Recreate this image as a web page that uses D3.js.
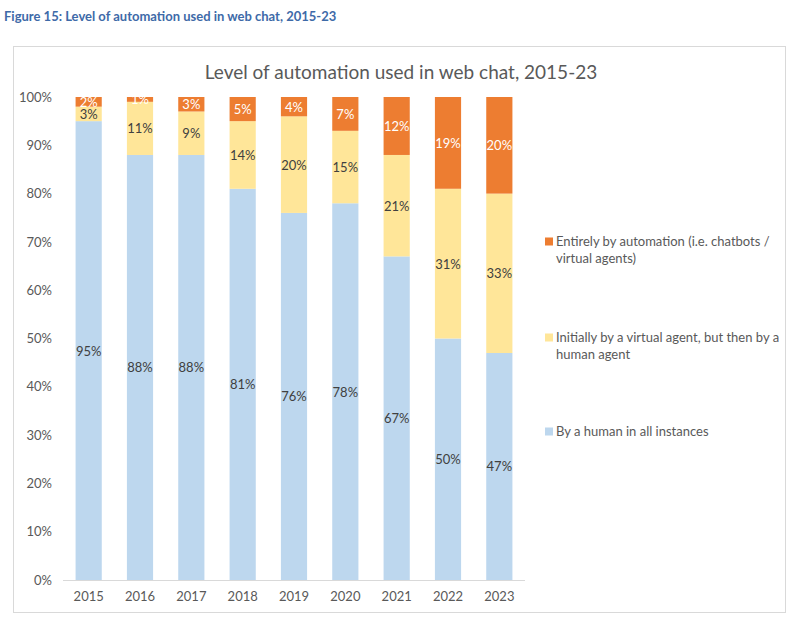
<!DOCTYPE html>
<html><head><meta charset="utf-8">
<script src="https://cdn.jsdelivr.net/npm/d3@7"></script>
<style>body{margin:0;background:#fff;font-family:Lato,"Open Sans",sans-serif;}</style>
</head><body>
<svg id="c" width="800" height="625"></svg>
<script>
const years = ["2015","2016","2017","2018","2019","2020","2021","2022","2023"];
const human = [95, 88, 88, 81, 76, 78, 67, 50, 47];
const virtualThenHuman = [3, 11, 9, 14, 20, 15, 21, 31, 33];
const automation = [2, 1, 3, 5, 4, 7, 12, 19, 20];
const seriesNames = ["By a human in all instances", "Initially by a virtual agent, but then by a human agent", "Entirely by automation (i.e. chatbots / virtual agents)"];
const yTicks = [0,10,20,30,40,50,60,70,80,90,100];

const svg = d3.select("#c");
const colors = ["#BDD7EE", "#FFE699", "#ED7D31"];
const labelColors = ["#404040", "#404040", "#ffffff"];

svg.append("text").attr("x", 4).attr("y", 21)
  .attr("font-size", 13).attr("font-weight", "bold").attr("fill", "#3E6AA8")
  .text("Figure 15: Level of automation used in web chat, 2015-23");

svg.append("rect").attr("x", 13.5).attr("y", 46.5).attr("width", 772).attr("height", 566)
  .attr("fill", "#fff").attr("stroke", "#d9d9d9");

svg.append("text").attr("x", 401).attr("y", 79).attr("text-anchor", "middle")
  .attr("font-size", 19).attr("fill", "#595959")
  .text("Level of automation used in web chat, 2015-23");

const x = d3.scaleBand().domain(years).range([63, 525]).paddingInner(0.49).paddingOuter(0.245);
const y = d3.scaleLinear().domain([0, 100]).range([580, 97]);

const rows = years.map((yr, i) => ({year: yr, s0: human[i], s1: virtualThenHuman[i], s2: automation[i]}));
const stack = d3.stack().keys(["s0","s1","s2"])(rows);

stack.forEach((layer, li) => {
  const g = svg.append("g");
  g.selectAll("rect").data(layer).join("rect")
    .attr("x", d => x(d.data.year)).attr("width", x.bandwidth())
    .attr("y", d => y(d[1])).attr("height", d => y(d[0]) - y(d[1]))
    .attr("fill", colors[li]);
  g.selectAll("text").data(layer).join("text")
    .attr("x", d => x(d.data.year) + x.bandwidth()/2)
    .attr("y", d => (y(d[0]) + y(d[1]))/2 + 5)
    .attr("text-anchor", "middle").attr("font-size", 13)
    .attr("fill", labelColors[li])
    .text(d => (d[1]-d[0]) + "%");
});

svg.append("line").attr("x1", 63).attr("x2", 525).attr("y1", 580.5).attr("y2", 580.5)
  .attr("stroke", "#d9d9d9");

const yAxis = d3.axisLeft(y).tickValues(yTicks).tickFormat(d => d + "%").tickSize(0).tickPadding(0);
const ya = svg.append("g").attr("transform", "translate(52,0)").call(yAxis);
ya.select(".domain").remove();
ya.selectAll("text").attr("font-size", 13).attr("fill", "#595959").attr("font-family", "Lato,'Open Sans',sans-serif");

const xAxis = d3.axisBottom(x).tickSize(0).tickPadding(0);
const xa = svg.append("g").attr("transform", "translate(0,592)").call(xAxis);
xa.select(".domain").remove();
xa.selectAll("text").attr("font-size", 13).attr("fill", "#595959").attr("font-family", "Lato,'Open Sans',sans-serif");

const legend = [
  {c: colors[2], lines: ["Entirely by automation (i.e. chatbots /", "virtual agents)"], y: 246},
  {c: colors[1], lines: ["Initially by a virtual agent, but then by a", "human agent"], y: 342},
  {c: colors[0], lines: ["By a human in all instances"], y: 436}
];
legend.forEach((l, i) => {
  svg.append("rect").attr("x", 545).attr("y", l.y - 8.5).attr("width", 8).attr("height", 8).attr("fill", l.c);
  const t = svg.append("text").attr("x", 556).attr("y", l.y).attr("font-size", 13).attr("fill", "#595959");
  l.lines.forEach((ln, j) => t.append("tspan").attr("x", 556).attr("dy", j ? 16.5 : 0).text(ln));
});
</script>
</body></html>
